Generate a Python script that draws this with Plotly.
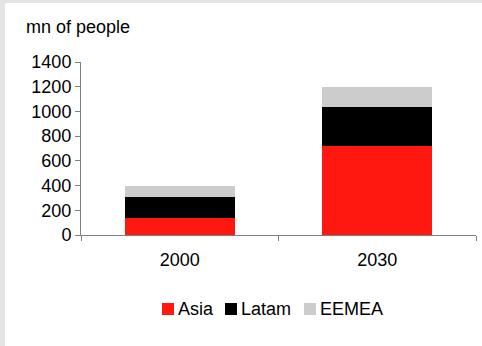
import plotly.graph_objects as go

# Population by region, millions of people
years = ["2000", "2030"]
asia = [140, 720]
latam = [165, 315]
eemea = [90, 165]

series_names = ["Asia", "Latam", "EEMEA"]
series_values = [asia, latam, eemea]
series_colors = ["#ff1810", "#000000", "#cccccc"]

W, H = 482, 346
L, R, T, B = 81, 6, 62, 111
PW, PH = W - L - R, H - T - B
FONT = "Liberation Sans, Arial, sans-serif"
FS = 18


def px_x(px):
    return (px - L) / PW


def px_y(py):
    return (T + PH - py) / PH


fig = go.Figure()
for name, vals, col in zip(series_names, series_values, series_colors):
    fig.add_trace(go.Bar(x=years, y=vals, name=name, marker_color=col,
                         marker_line_width=0, showlegend=False))

shapes = [
    # light grey frame on the left and top edges
    dict(type="rect", xref="paper", yref="paper", x0=px_x(0), x1=px_x(5),
         y0=px_y(H), y1=px_y(0), fillcolor="#e4e4e4", line_width=0, layer="above"),
    dict(type="rect", xref="paper", yref="paper", x0=px_x(0), x1=px_x(W),
         y0=px_y(3), y1=px_y(0), fillcolor="#e4e4e4", line_width=0, layer="above"),
]
annotations = [
    dict(text="mn of people", xref="paper", yref="paper", x=px_x(24), y=px_y(27),
         xanchor="left", yanchor="middle", showarrow=False,
         font=dict(family=FONT, size=FS, color="#000000")),
]

# legend row: coloured square followed by the series name
leg_x = [162, 225, 304]
leg_y = 309
for x0, name, col in zip(leg_x, series_names, series_colors):
    shapes.append(dict(type="rect", xref="paper", yref="paper",
                       x0=px_x(x0), x1=px_x(x0 + 12),
                       y0=px_y(leg_y + 6), y1=px_y(leg_y - 6),
                       fillcolor=col, line_width=0, layer="above"))
    annotations.append(dict(text=name, xref="paper", yref="paper",
                            x=px_x(x0 + 14), y=px_y(leg_y),
                            xanchor="left", yanchor="middle", showarrow=False,
                            font=dict(family=FONT, size=FS, color="#000000")))

fig.update_layout(
    width=W, height=H,
    margin=dict(l=L, r=R, t=T, b=B, pad=0),
    barmode="stack",
    bargap=0.443,
    paper_bgcolor="#ffffff",
    plot_bgcolor="#ffffff",
    font=dict(family=FONT, size=FS, color="#000000"),
    shapes=shapes,
    annotations=annotations,
    showlegend=False,
)
fig.update_xaxes(
    showline=True, linecolor="#808080", linewidth=1,
    ticks="outside", tickson="boundaries", ticklen=5, tickcolor="#808080",
    ticklabelstandoff=8,
    showgrid=False, zeroline=False,
)
fig.update_yaxes(
    range=[0, 1400], dtick=200,
    showline=True, linecolor="#808080", linewidth=1,
    ticks="outside", ticklen=5, tickcolor="#808080",
    showgrid=False, zeroline=False,
)

fig.write_html("out.html")
